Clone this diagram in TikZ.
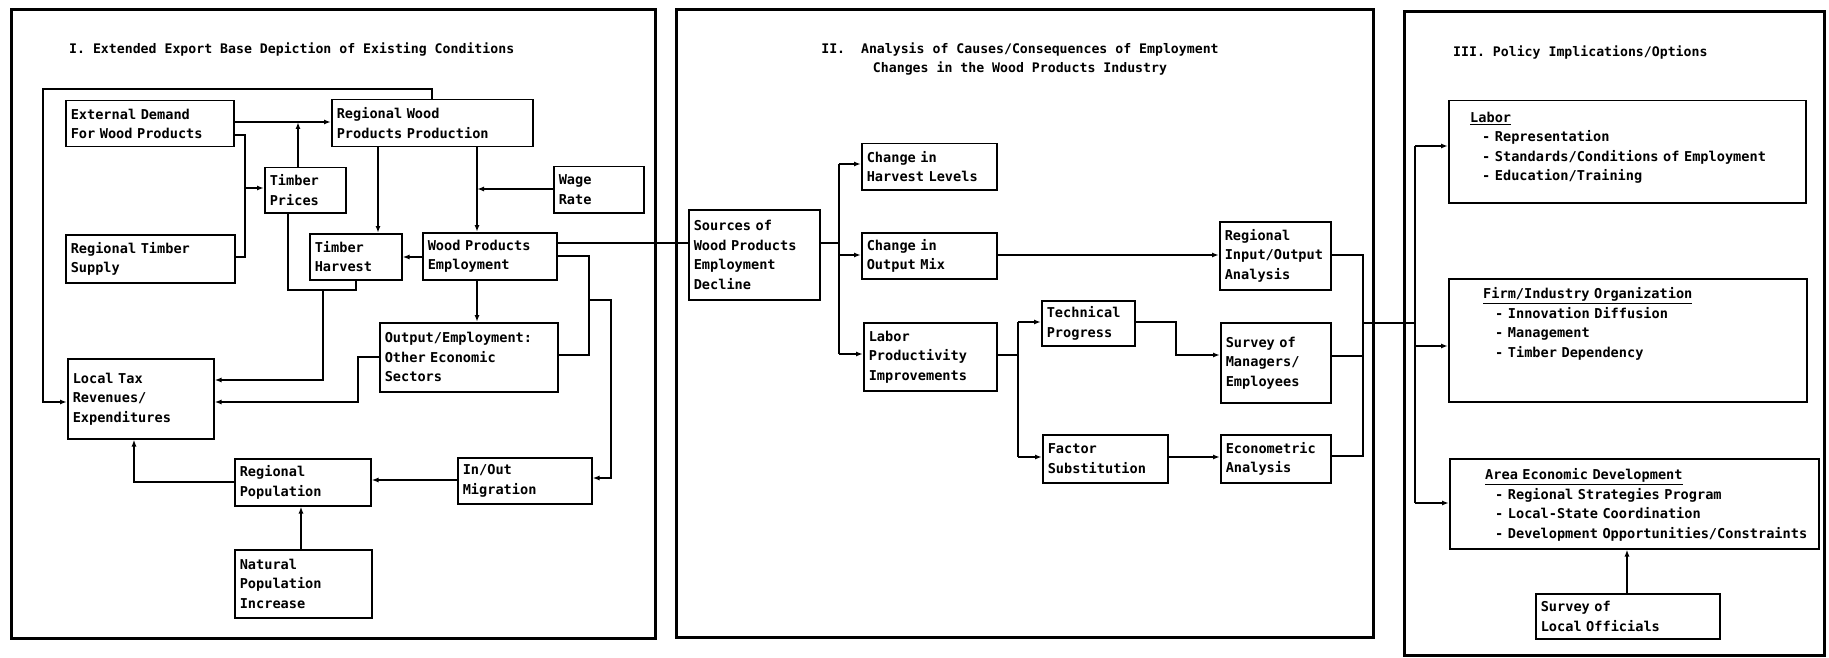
\documentclass[tikz,border=0pt]{standalone}
\usepackage{fontspec}
\setmainfont{DejaVu Sans Mono}
\usetikzlibrary{arrows.meta}
\tikzset{
  bx/.style={draw, line width=1.5pt, inner xsep=5pt, inner ysep=2pt, align=left,
    font=\bfseries\fontsize{13.6}{19.5}\selectfont, anchor=north west},
  frame/.style={draw, line width=3pt},
  cn/.style={line width=1.4pt},
  ar/.style={cn, -{Latex[length=7pt,width=5pt]}},
  ttl/.style={font=\bfseries\fontsize{13.2}{19}\selectfont, inner sep=0pt},
  lst/.style={align=left, inner sep=0pt, anchor=base west, text width=340pt,
    font=\bfseries\fontsize{13.6}{19.5}\selectfont},
}
\newcommand\mybox[6]{%
  \pgfmathsetmacro\bw{#4-#2}\pgfmathsetmacro\bh{#5-#3}\pgfmathsetmacro\tw{#4-#2-10}%
  \node[bx, minimum width=\bw pt, minimum height=\bh pt, text width=\tw pt] (#1) at (#2,#3) {#6};}
\begin{document}
\begin{tikzpicture}[x=1pt,y=-1pt]
\useasboundingbox (0,0) rectangle (1829,658);
% panel frames
\draw[frame] (11,10) rectangle (655,638);
\draw[frame] (676,10) rectangle (1373,637);
\draw[frame] (1404,12) rectangle (1824,655);
% titles
\node[ttl, anchor=base west] (t1) at (69,54) {I. Extended Export Base Depiction of Existing Conditions};
\node[ttl, anchor=base] (t2a) at (1020,54) {II.\ \ Analysis of Causes/Consequences of Employment};
\node[ttl, anchor=base] (t2b) at (1020,73) {Changes in the Wood Products Industry};
\node[ttl, anchor=base west] (t3) at (1453,57) {III. Policy Implications/Options};

% ---------- panel I ----------
\mybox{ext}{65}{100}{233}{146}{External Demand\\For Wood Products}
\mybox{rwp}{331}{99}{532}{146}{Regional Wood\\Products Production}
\mybox{tpr}{264}{167}{345}{212}{Timber\\Prices}
\mybox{wage}{553}{166}{643}{212}{Wage\\Rate}
\mybox{rts}{65}{234}{234}{282}{Regional Timber\\Supply}
\mybox{th}{309}{233}{401}{279}{Timber\\Harvest}
\mybox{we}{422}{232}{556}{279}{Wood Products\\Employment}
\mybox{oe}{379}{322}{557}{391}{Output/Employment:\\Other Economic\\Sectors}
\mybox{lt}{67}{358}{213}{438}{Local Tax\\Revenues/\\Expenditures}
\mybox{rp}{234}{458}{370}{505}{Regional\\Population}
\mybox{io}{457}{457}{591}{503}{In/Out\\Migration}
\mybox{np}{234}{549}{371}{617}{Natural\\Population\\Increase}

% ---------- panel II ----------
\mybox{src}{688}{209}{819}{299}{Sources of\\Wood Products\\Employment\\Decline}
\mybox{ch}{861}{143}{996}{189}{Change in\\Harvest Levels}
\mybox{co}{861}{232}{996}{278}{Change in\\Output Mix}
\mybox{lp}{863}{322}{996}{390}{Labor\\Productivity\\Improvements}
\mybox{rio}{1219}{221}{1330}{289}{Regional\\Input/Output\\Analysis}
\mybox{tp}{1041}{300}{1134}{345}{Technical\\Progress}
\mybox{sme}{1220}{322}{1330}{402}{Survey of\\Managers/\\Employees}
\mybox{fs}{1042}{434}{1167}{482}{Factor\\Substitution}
\mybox{ea}{1220}{434}{1330}{482}{Econometric\\Analysis}

% ---------- panel III ----------
\mybox{labor}{1448}{100}{1805}{202}{}
\mybox{firm}{1448}{278}{1806}{401}{}
\mybox{area}{1449}{458}{1818}{548}{}
\mybox{slo}{1535}{593}{1719}{638}{Survey of\\Local Officials}
\node[lst] (laborT) at (1470,122.5) {\underline{Labor}\\
  \hspace*{12pt}- Representation\\
  \hspace*{12pt}- Standards/Conditions of Employment\\
  \hspace*{12pt}- Education/Training};
\node[lst] (firmT) at (1483,298.5) {\underline{Firm/Industry Organization}\\
  \hspace*{12pt}- Innovation Diffusion\\
  \hspace*{12pt}- Management\\
  \hspace*{12pt}- Timber Dependency};
\node[lst] (areaT) at (1485,479.5) {\underline{Area Economic Development}\\
  \hspace*{10pt}- Regional Strategies Program\\
  \hspace*{10pt}- Local-State Coordination\\
  \hspace*{10pt}- Development Opportunities/Constraints};

% ---------- connectors panel I ----------
\coordinate (loopA) at (432,89);
\coordinate (loopB) at (43,89);
\coordinate (loopC) at (43,402);
\draw[ar] (rwp.north -| loopA) -- (loopA) -- (loopB) -- (loopC) -- (lt.west |- loopC);
\draw[ar] (ext.east |- 0,122) -- (rwp.west |- 0,122);
\coordinate (tpj) at (298,122);
\draw[ar] (tpr.north -| tpj) -- (tpj);
\coordinate (brA) at (245,135);
\coordinate (brB) at (245,257);
\coordinate (brC) at (245,188);
\draw[cn] (ext.east |- brA) -- (brA) -- (brB) -- (rts.east |- brB);
\draw[ar] (brC) -- (tpr.west |- brC);
\draw[ar] (rwp.south -| 378,0) -- (th.north -| 378,0);
\draw[ar] (rwp.south -| 477,0) -- (we.north -| 477,0);
\coordinate (wj) at (477,189);
\draw[ar] (wage.west |- wj) -- (wj);
\draw[ar] (we.west |- 0,257) -- (th.east |- 0,257);
\coordinate (hpA) at (356,290);
\coordinate (hpB) at (288,290);
\draw[cn] (th.south -| hpA) -- (hpA) -- (hpB) -- (tpr.south -| hpB);
\coordinate (hlA) at (323,290);
\coordinate (hlB) at (323,380);
\draw[ar] (hlA) -- (hlB) -- (lt.east |- hlB);
\coordinate (olA) at (358,357);
\coordinate (olB) at (358,402);
\draw[ar] (oe.west |- olA) -- (olA) -- (olB) -- (lt.east |- olB);
\draw[ar] (we.south -| 477,0) -- (oe.north -| 477,0);
\coordinate (fbA) at (589,256);
\coordinate (fbB) at (589,355);
\draw[cn] (we.east |- fbA) -- (fbA) -- (fbB) -- (oe.east |- fbB);
\coordinate (miA) at (589,300);
\coordinate (miB) at (611,300);
\coordinate (miC) at (611,478);
\draw[ar] (miA) -- (miB) -- (miC) -- (io.east |- miC);
\draw[ar] (io.west |- 0,480) -- (rp.east |- 0,480);
\coordinate (rlA) at (134,482);
\draw[ar] (rp.west |- rlA) -- (rlA) -- (lt.south -| rlA);
\draw[ar] (np.north -| 301,0) -- (rp.south -| 301,0);
\draw[cn] (we.east |- 0,243) -- (src.west |- 0,243);

% ---------- connectors panel II ----------
\coordinate (sbA) at (839,243);
\coordinate (sbT) at (839,164);
\coordinate (sbM) at (839,255);
\coordinate (sbL) at (839,354);
\draw[cn] (src.east |- sbA) -- (sbA);
\draw[cn] (sbT) -- (sbL);
\draw[ar] (sbT) -- (ch.west |- sbT);
\draw[ar] (sbM) -- (co.west |- sbM);
\draw[ar] (sbL) -- (lp.west |- sbL);
\draw[ar] (co.east |- 0,255) -- (rio.west |- 0,255);
\coordinate (lbA) at (1018,355);
\coordinate (lbT) at (1018,322);
\coordinate (lbL) at (1018,457);
\draw[cn] (lp.east |- lbA) -- (lbA);
\draw[cn] (lbT) -- (lbL);
\draw[ar] (lbT) -- (tp.west |- lbT);
\draw[ar] (lbL) -- (fs.west |- lbL);
\coordinate (tsA) at (1176,322);
\coordinate (tsB) at (1176,355);
\draw[ar] (tp.east |- tsA) -- (tsA) -- (tsB) -- (sme.west |- tsB);
\draw[ar] (fs.east |- 0,457) -- (ea.west |- 0,457);
\coordinate (obA) at (1363,255);
\coordinate (obB) at (1363,456);
\coordinate (obM) at (1363,356);
\coordinate (obX) at (1363,323);
\draw[cn] (rio.east |- obA) -- (obA) -- (obB) -- (ea.east |- obB);
\draw[cn] (sme.east |- obM) -- (obM);
% ---------- connectors panel III ----------
\coordinate (pbT) at (1415,146);
\coordinate (pbM) at (1415,346);
\coordinate (pbL) at (1415,503);
\coordinate (pbX) at (1415,323);
\draw[cn] (obX) -- (pbX);
\draw[cn] (pbT) -- (pbL);
\draw[ar] (pbT) -- (labor.west |- pbT);
\draw[ar] (pbM) -- (firm.west |- pbM);
\draw[ar] (pbL) -- (area.west |- pbL);
\draw[ar] (slo.north -| 1627,0) -- (area.south -| 1627,0);
\end{tikzpicture}
\end{document}
